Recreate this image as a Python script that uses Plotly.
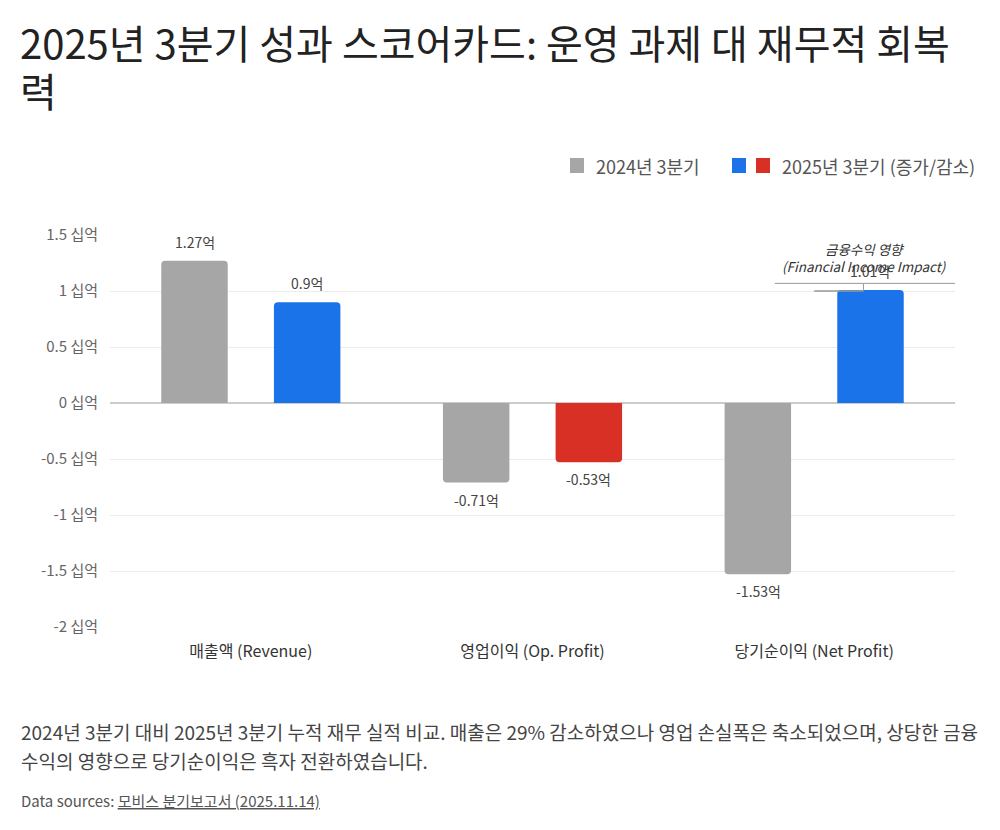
import plotly.graph_objects as go

categories = ["매출액 (Revenue)", "영업이익 (Op. Profit)", "당기순이익 (Net Profit)"]
values_2024 = [1.27, -0.71, -1.53]
values_2025 = [0.9, -0.53, 1.01]
series_names = ["2024년 3분기", "2025년 3분기 (증가/감소)"]
tick_vals = [-2, -1.5, -1, -0.5, 0, 0.5, 1, 1.5]
tick_text = ["-2 십억", "-1.5 십억", "-1 십억", "-0.5 십억", "0 십억", "0.5 십억", "1 십억", "1.5 십억"]
title_lines = ["2025년 3분기 성과 스코어카드: 운영 과제 대 재무적 회복", "력"]
caption_lines = [
    "2024년 3분기 대비 2025년 3분기 누적 재무 실적 비교. 매출은 29% 감소하였으나 영업 손실폭은 축소되었으며, 상당한 금융",
    "수익의 영향으로 당기순이익은 흑자 전환하였습니다.",
]

GRAY = "#a6a6a6"
BLUE = "#1a73e8"
RED = "#d93025"
FONT = "Noto Sans CJK KR"

colors_2025 = [BLUE if v >= 0 else RED for v in values_2025]

W, H = 1000, 830
L, R, T, B = 110, 45, 235, 203
plot_h = H - T - B


def py(pix):
    return (H - B - pix) / plot_h


def px(pix):
    return (pix - L) / (W - L - R)


fig = go.Figure()
fig.add_trace(go.Bar(x=categories, y=values_2024, name=series_names[0],
                     marker=dict(color=GRAY, line=dict(width=0)), showlegend=False))
fig.add_trace(go.Bar(x=categories, y=values_2025, name=series_names[1],
                     marker=dict(color=colors_2025, line=dict(width=0)), showlegend=False))

annotations = []
# value labels
for vals, shift in ((values_2024, -56), (values_2025, 56)):
    for c, v in zip(categories, vals):
        annotations.append(dict(
            x=c, y=v, xref="x", yref="y", xshift=shift,
            yshift=19 if v >= 0 else -17,
            text=f"{v:g}억", showarrow=False,
            font=dict(family=FONT, size=14, color="#444444"),
            xanchor="center", yanchor="middle"))

# financial income impact note
np_val = values_2025[2]
annotations.append(dict(
    x=2.18, y=np_val, xref="x", yref="y", yshift=41,
    text="<i>금융수익 영향</i>", showarrow=False,
    font=dict(family=FONT, size=13.5, color="#333333"), yanchor="middle"))
annotations.append(dict(
    x=2.18, y=np_val, xref="x", yref="y", yshift=24,
    text="<i>(Financial Income Impact)</i>", showarrow=False,
    font=dict(family=FONT, size=13.5, color="#333333"), yanchor="middle"))

shapes = [
    dict(type="line", xref="x", yref="y", x0=1.86, x1=2.5, y0=np_val + 0.058, y1=np_val + 0.058,
         line=dict(color="#999999", width=1)),
    dict(type="line", xref="x", yref="y", x0=2.175, x1=2.175, y0=np_val - 0.01, y1=np_val + 0.058,
         line=dict(color="#999999", width=1)),
    dict(type="line", xref="x", yref="y", x0=2.0, x1=2.175, y0=np_val - 0.01, y1=np_val - 0.01,
         line=dict(color="#999999", width=1.5)),
]

# legend (manual)
leg_y0, leg_y1 = py(173), py(158)
shapes += [
    dict(type="rect", xref="paper", yref="paper", x0=px(570), x1=px(584), y0=leg_y0, y1=leg_y1,
         fillcolor=GRAY, line=dict(width=0)),
    dict(type="rect", xref="paper", yref="paper", x0=px(732), x1=px(746), y0=leg_y0, y1=leg_y1,
         fillcolor=BLUE, line=dict(width=0)),
    dict(type="rect", xref="paper", yref="paper", x0=px(756), x1=px(770), y0=leg_y0, y1=leg_y1,
         fillcolor=RED, line=dict(width=0)),
]
annotations += [
    dict(x=px(594), y=py(166), xref="paper", yref="paper", text=series_names[0], showarrow=False,
         xanchor="left", yanchor="middle", font=dict(family=FONT, size=18, color="#555555")),
    dict(x=px(780), y=py(166), xref="paper", yref="paper", text=series_names[1], showarrow=False,
         xanchor="left", yanchor="middle", font=dict(family=FONT, size=18, color="#555555")),
]

# title
for line, ypix in zip(title_lines, (42, 90)):
    annotations.append(dict(x=px(18), y=py(ypix), xref="paper", yref="paper",
                            xanchor="left", yanchor="middle", showarrow=False, text=line,
                            font=dict(family=FONT, size=40, color="#222222")))

# caption and source
for line, ypix in zip(caption_lines, (731, 760)):
    annotations.append(dict(x=px(19), y=py(ypix), xref="paper", yref="paper", xanchor="left",
                            yanchor="middle", align="left", showarrow=False, text=line,
                            font=dict(family=FONT, size=19, color="#444444")))
annotations.append(dict(x=px(19), y=py(800), xref="paper", yref="paper", xanchor="left",
                        yanchor="middle", align="left", showarrow=False,
                        text="Data sources: <u>모비스 분기보고서 (2025.11.14)</u>",
                        font=dict(family=FONT, size=15, color="#555555")))

fig.update_layout(
    width=W, height=H,
    margin=dict(l=L, r=R, t=T, b=B),
    paper_bgcolor="white", plot_bgcolor="white",
    barmode="group", bargap=0.2, bargroupgap=0.41, barcornerradius=4,
    font=dict(family=FONT),
    annotations=annotations, shapes=shapes,
    showlegend=False,
)
fig.update_xaxes(range=[-0.5, 2.5], showgrid=False, showline=False,
                 ticks="outside", ticklen=10, tickcolor="rgba(0,0,0,0)",
                 tickfont=dict(family=FONT, size=16, color="#333333"))
fig.update_yaxes(range=[-2, 1.5], tickvals=tick_vals, ticktext=tick_text,
                 showgrid=True, gridcolor="#ececec", gridwidth=1,
                 zeroline=True, zerolinecolor="#cccccc", zerolinewidth=2,
                 ticks="outside", ticklen=8, tickcolor="rgba(0,0,0,0)",
                 tickfont=dict(family=FONT, size=15, color="#666666"))

fig.write_html("out.html")
